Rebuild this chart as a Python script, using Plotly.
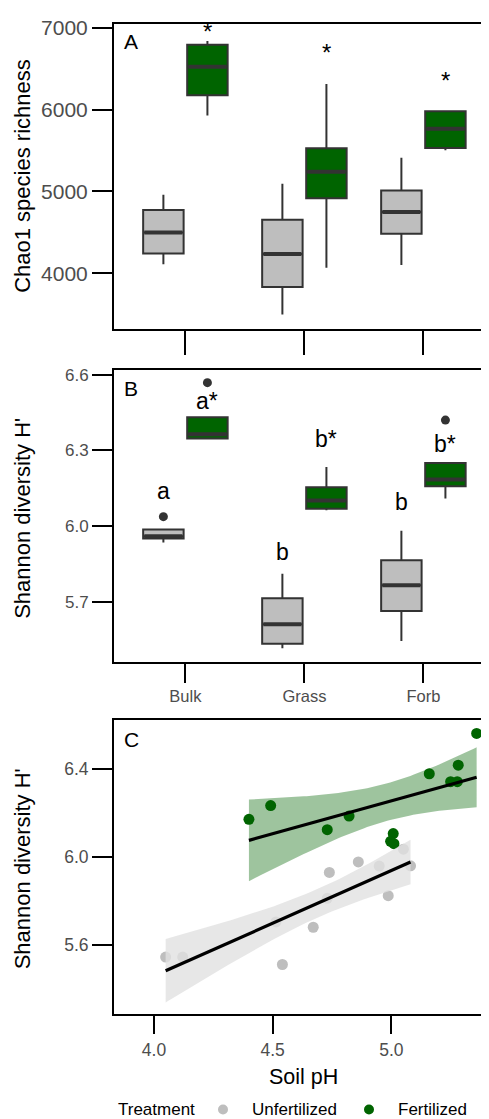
import numpy as np
import plotly.graph_objects as go

# ---------------- data ----------------
categories = ["Bulk", "Grass", "Forb"]

# Panel A: Chao1 richness (box statistics)
chao_unf_low = [4109, 3494, 4101]
chao_unf_q1 = [4242, 3830, 4481]
chao_unf_med = [4497, 4234, 4748]
chao_unf_q3 = [4772, 4655, 5011]
chao_unf_high = [4958, 5095, 5411]

chao_fert_low = [5928, 4068, 5504]
chao_fert_q1 = [6175, 4917, 5532]
chao_fert_med = [6523, 5241, 5767]
chao_fert_q3 = [6794, 5528, 5981]
chao_fert_high = [6838, 6313, 5993]

chao_star_y = [6910, 6656, 6304]

# Panel B: Shannon diversity (box statistics)
sh_unf_low = [5.935, 5.515, 5.544]
sh_unf_q1 = [5.950, 5.533, 5.663]
sh_unf_med = [5.959, 5.610, 5.765]
sh_unf_q3 = [5.986, 5.713, 5.864]
sh_unf_high = [5.986, 5.811, 5.981]

sh_fert_low = [6.345, 6.062, 6.109]
sh_fert_q1 = [6.347, 6.068, 6.158]
sh_fert_med = [6.364, 6.101, 6.184]
sh_fert_q3 = [6.431, 6.154, 6.250]
sh_fert_high = [6.431, 6.234, 6.250]

sh_unf_out_cat = [0]
sh_unf_out_y = [6.037]
sh_fert_out_cat = [0, 2]
sh_fert_out_y = [6.5685, 6.42]

sh_unf_letters = ["a", "b", "b"]
sh_unf_letter_y = [6.138, 5.895, 6.095]
sh_fert_letters = ["a*", "b*", "b*"]
sh_fert_letter_y = [6.495, 6.345, 6.326]

# Panel C: Shannon vs soil pH
ph_unf = [4.049, 4.121, 4.541, 4.514, 4.671, 4.730, 4.739, 4.861, 4.949, 4.987, 5.051, 5.081]
h_unf = [5.543, 5.543, 5.509, 5.703, 5.679, 5.811, 5.929, 5.977, 5.958, 5.823, 6.035, 5.959]
ph_fert = [5.3596, 5.282, 5.160, 5.250, 5.278, 4.4916, 4.400, 4.822, 4.730, 5.008, 4.997, 5.011]
h_fert = [6.563, 6.418, 6.379, 6.343, 6.343, 6.234, 6.171, 6.186, 6.124, 6.106, 6.071, 6.060]

legend_title = "Treatment"
legend_labels = ["Unfertilized", "Fertilized"]

# ---------------- style ----------------
FONT = "Liberation Sans, Arial, sans-serif"
GREEN = "#006400"
GREY = "#bebebe"
OUTLINE = "#333333"
TICKCOL = "#4d4d4d"
OFFS = 8                      # page body margin
W, H = 489 - OFFS, 1119 - OFFS
OFF = 0.185
BW = 0.34

def px_x(p):
    return (p - OFFS) / W

def px_y(p):
    return 1 - (p - OFFS) / H

fig = go.Figure()

def add_boxes(xa, ya, low, q1, med, q3, high, fill, offset):
    pos = [i + 1 + offset for i in range(len(categories))]
    fig.add_trace(go.Box(
        x=pos, lowerfence=low, q1=q1, median=med, q3=q3, upperfence=high,
        width=BW, whiskerwidth=0, fillcolor=fill,
        line=dict(color=OUTLINE, width=2), boxpoints=False,
        xaxis=xa, yaxis=ya, showlegend=False, hoverinfo="skip"))
    mx, my = [], []
    for p, m in zip(pos, med):
        mx += [p - BW / 2 + 0.01, p + BW / 2 - 0.01, None]
        my += [m, m, None]
    fig.add_trace(go.Scatter(x=mx, y=my, mode="lines",
                             line=dict(color=OUTLINE, width=4),
                             xaxis=xa, yaxis=ya, showlegend=False, hoverinfo="skip"))

# Panel A
add_boxes("x", "y", chao_unf_low, chao_unf_q1, chao_unf_med, chao_unf_q3, chao_unf_high, GREY, -OFF)
add_boxes("x", "y", chao_fert_low, chao_fert_q1, chao_fert_med, chao_fert_q3, chao_fert_high, GREEN, OFF)

# Panel B
add_boxes("x2", "y2", sh_unf_low, sh_unf_q1, sh_unf_med, sh_unf_q3, sh_unf_high, GREY, -OFF)
add_boxes("x2", "y2", sh_fert_low, sh_fert_q1, sh_fert_med, sh_fert_q3, sh_fert_high, GREEN, OFF)
fig.add_trace(go.Scatter(x=[c + 1 - OFF for c in sh_unf_out_cat], y=sh_unf_out_y, mode="markers",
                         marker=dict(color=OUTLINE, size=9), xaxis="x2", yaxis="y2",
                         showlegend=False, hoverinfo="skip"))
fig.add_trace(go.Scatter(x=[c + 1 + OFF for c in sh_fert_out_cat], y=sh_fert_out_y, mode="markers",
                         marker=dict(color=OUTLINE, size=9), xaxis="x2", yaxis="y2",
                         showlegend=False, hoverinfo="skip"))

# Panel C points
fig.add_trace(go.Scatter(x=ph_unf, y=h_unf, mode="markers", marker=dict(color=GREY, size=11),
                         name=legend_labels[0], xaxis="x3", yaxis="y3", showlegend=False,
                         hoverinfo="skip"))
fig.add_trace(go.Scatter(x=ph_fert, y=h_fert, mode="markers", marker=dict(color=GREEN, size=11),
                         name=legend_labels[1], xaxis="x3", yaxis="y3", showlegend=False,
                         hoverinfo="skip"))

T_CRIT = 2.228  # t(0.975, df=10)

def lm_band(xs, ys, fillcol):
    x = np.array(xs); y = np.array(ys)
    n = len(x)
    mx = x.mean(); my = y.mean()
    sxx = ((x - mx) ** 2).sum()
    b = ((x - mx) * (y - my)).sum() / sxx
    a = my - b * mx
    resid = y - (a + b * x)
    s = np.sqrt((resid ** 2).sum() / (n - 2))
    g = np.linspace(x.min(), x.max(), 80)
    fit = a + b * g
    se = s * np.sqrt(1 / n + (g - mx) ** 2 / sxx)
    up = fit + T_CRIT * se
    lo = fit - T_CRIT * se
    fig.add_trace(go.Scatter(x=np.concatenate([g, g[::-1]]), y=np.concatenate([up, lo[::-1]]),
                             mode="lines", fill="toself", fillcolor=fillcol,
                             line=dict(width=0, color="rgba(0,0,0,0)"),
                             xaxis="x3", yaxis="y3", showlegend=False, hoverinfo="skip"))
    return g, fit

g1, f1 = lm_band(ph_unf, h_unf, "rgba(225,225,225,0.8)")
g2, f2 = lm_band(ph_fert, h_fert, "rgba(0,100,0,0.38)")
for g, f in [(g1, f1), (g2, f2)]:
    fig.add_trace(go.Scatter(x=g, y=f, mode="lines", line=dict(color="black", width=3.2),
                             xaxis="x3", yaxis="y3", showlegend=False, hoverinfo="skip"))

# ---------------- annotations ----------------
ann = []
for i, yv in enumerate(chao_star_y):
    ann.append(dict(x=i + 1 + OFF, y=yv, xref="x", yref="y", text="*", showarrow=False,
                    font=dict(family=FONT, size=24, color="black"), yshift=4))
for i, (t, yv) in enumerate(zip(sh_unf_letters, sh_unf_letter_y)):
    ann.append(dict(x=i + 1 - OFF, y=yv, xref="x2", yref="y2", text=t, showarrow=False,
                    font=dict(family=FONT, size=23, color="black")))
for i, (t, yv) in enumerate(zip(sh_fert_letters, sh_fert_letter_y)):
    ann.append(dict(x=i + 1 + OFF, y=yv, xref="x2", yref="y2", text=t, showarrow=False,
                    font=dict(family=FONT, size=23, color="black")))

for lab, cy in [("A", 34), ("B", 382.7), ("C", 736.7)]:
    ann.append(dict(x=px_x(131), y=px_y(cy), xref="paper", yref="paper", text=lab,
                    showarrow=False, xanchor="center", yanchor="middle",
                    font=dict(family=FONT, size=21, color="black")))

for txt, cy in [("Chao1 species richness", 169.5), ("Shannon diversity H'", 514),
                ("Shannon diversity H'", 867)]:
    ann.append(dict(x=px_x(22.5), y=px_y(cy), xref="paper", yref="paper", text=txt,
                    textangle=-90, showarrow=False, xanchor="center", yanchor="middle",
                    font=dict(family=FONT, size=22, color="black")))

ann.append(dict(x=px_x(303), y=px_y(1076.7), xref="paper", yref="paper", text="Soil pH",
                showarrow=False, xanchor="center", yanchor="middle",
                font=dict(family=FONT, size=21.5, color="black")))

# manual legend (title, symbols, labels)
LEG_Y = 1109.5
ann.append(dict(x=px_x(118), y=px_y(LEG_Y), xref="paper", yref="paper", text=legend_title,
                showarrow=False, xanchor="left", yanchor="middle",
                font=dict(family=FONT, size=17, color="black"), xshift=-2))
shapes = []
for lab, col, dot_x, txt_x in [(legend_labels[0], GREY, 223, 252),
                               (legend_labels[1], GREEN, 369, 398)]:
    r = 5
    shapes.append(dict(type="circle", xref="paper", yref="paper",
                       x0=px_x(dot_x - r), x1=px_x(dot_x + r),
                       y0=px_y(LEG_Y + r), y1=px_y(LEG_Y - r),
                       fillcolor=col, line=dict(width=0)))
    ann.append(dict(x=px_x(txt_x), y=px_y(LEG_Y), xref="paper", yref="paper", text=lab,
                    showarrow=False, xanchor="left", yanchor="middle",
                    font=dict(family=FONT, size=17, color="black"), xshift=-2))

# ---------------- axes ----------------
def yax(rng, vals, texts, dom, size, anchor):
    return dict(range=rng, domain=dom, tickvals=vals, ticktext=texts, anchor=anchor,
                tickfont=dict(family=FONT, size=size, color=TICKCOL),
                ticks="outside", ticklen=20, tickwidth=2, tickcolor="black",
                showline=True, linewidth=2, linecolor="black", showgrid=False,
                zeroline=False)

def xax(rng, vals, texts, dom, showlab, size, anchor, ticklen=19, standoff=None):
    d = dict(range=rng, domain=dom, tickvals=vals, ticktext=texts, anchor=anchor,
             showticklabels=showlab,
             tickfont=dict(family=FONT, size=size, color=TICKCOL),
             ticks="outside", ticklen=ticklen, tickwidth=2, tickcolor="black",
             showline=True, linewidth=2, linecolor="black", mirror=True,
             showgrid=False, zeroline=False)
    if standoff is not None:
        d["ticklabelstandoff"] = standoff
    return d

XDOM = [px_x(114), 1]
cat_range = [0.4, 0.4 + 375 / 119]

fig.update_layout(
    width=W, height=H, margin=dict(l=0, r=0, t=0, b=0),
    paper_bgcolor="white", plot_bgcolor="white",
    font=dict(family=FONT, color="black"),
    boxmode="overlay", showlegend=False,
    annotations=ann, shapes=shapes,
    xaxis=xax(cat_range, [1, 2, 3], categories, XDOM, False, 16, "y", ticklen=24),
    yaxis=yax([3321, 7048], [4000, 5000, 6000, 7000], ["4000", "5000", "6000", "7000"],
              [px_y(323), px_y(16)], 21, "x"),
    xaxis2=xax(cat_range, [1, 2, 3], categories, XDOM, True, 16.5, "y2"),
    yaxis2=yax([5.4622, 6.6197], [5.7, 6.0, 6.3, 6.6], ["5.7", "6.0", "6.3", "6.6"],
               [px_y(658.3), px_y(364.3)], 17, "x2"),
    xaxis3=xax([3.8314, 3.8314 + 375 / 237.3], [4.0, 4.5, 5.0], ["4.0", "4.5", "5.0"],
               XDOM, True, 17.5, "y3", ticklen=18, standoff=1),
    yaxis3=yax([5.283, 6.626], [5.6, 6.0, 6.4], ["5.6", "6.0", "6.4"],
               [px_y(1013.3), px_y(716.7)], 17.5, "x3"),
)
fig.write_html("out.html")
